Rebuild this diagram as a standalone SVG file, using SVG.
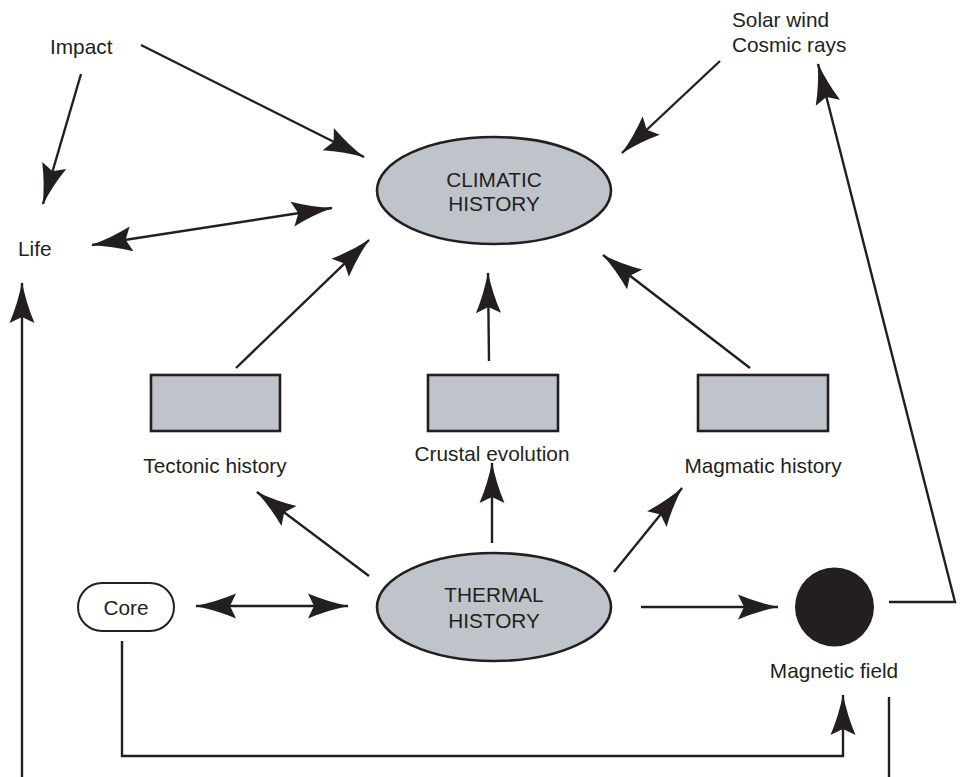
<svg xmlns="http://www.w3.org/2000/svg" width="960" height="777" viewBox="0 0 960 777">
<style>
  text { font-family: "Liberation Sans", Arial, sans-serif; font-size: 20.8px; fill: #231f20; }
  .c { text-anchor: middle; }
  .shape { fill: #bfc3ca; stroke: #231f20; stroke-width: 2.6; }
  .conn { fill: none; stroke: #231f20; stroke-width: 2.4; }
</style>
<defs>
  <marker id="ah" markerUnits="userSpaceOnUse" viewBox="-42 -15 44 30" markerWidth="44" markerHeight="30" refX="0" refY="0" orient="auto-start-reverse">
    <path d="M1,0 Q-20,-4 -40,-12.5 L-34,0 L-40,12.5 Q-20,4 1,0 Z" fill="#231f20"/>
  </marker>
</defs>

<g id="connectors">
  <line class="conn" x1="141" y1="45" x2="364" y2="157" marker-end="url(#ah)"/>
  <line class="conn" x1="81" y1="74" x2="43" y2="204" marker-end="url(#ah)"/>
  <line class="conn" x1="92" y1="245" x2="332" y2="208" marker-start="url(#ah)" marker-end="url(#ah)"/>
  <line class="conn" x1="236" y1="368" x2="369" y2="240" marker-end="url(#ah)"/>
  <line class="conn" x1="489" y1="361" x2="488" y2="273" marker-end="url(#ah)"/>
  <line class="conn" x1="750" y1="368" x2="603" y2="255" marker-end="url(#ah)"/>
  <line class="conn" x1="720" y1="61" x2="622" y2="153" marker-end="url(#ah)"/>
  <polyline class="conn" points="889,602 955,602 818,64" marker-end="url(#ah)"/>
  <line class="conn" x1="369" y1="576" x2="257" y2="492" marker-end="url(#ah)"/>
  <line class="conn" x1="492" y1="543" x2="492" y2="463" marker-end="url(#ah)"/>
  <line class="conn" x1="614" y1="572" x2="682" y2="488" marker-end="url(#ah)"/>
  <line class="conn" x1="196" y1="606" x2="348" y2="606" marker-start="url(#ah)" marker-end="url(#ah)"/>
  <line class="conn" x1="641" y1="607" x2="778" y2="607" marker-end="url(#ah)"/>
  <polyline class="conn" points="122,641 122,756 843,756 843,695" marker-end="url(#ah)"/>
  <line class="conn" x1="22" y1="777" x2="22" y2="283" marker-end="url(#ah)"/>
  <line class="conn" x1="889" y1="697" x2="889" y2="777"/>
</g>

<g id="climatic">
  <ellipse class="shape" cx="494" cy="190.5" rx="117" ry="53.5"/>
  <text class="c" x="494" y="187">CLIMATIC</text>
  <text class="c" x="494" y="211">HISTORY</text>
</g>

<g id="thermal">
  <ellipse class="shape" cx="494" cy="607" rx="117" ry="54"/>
  <text class="c" x="494" y="602">THERMAL</text>
  <text class="c" x="494" y="628">HISTORY</text>
</g>

<g id="tectonic">
  <rect class="shape" x="151" y="375" width="129" height="56"/>
  <text class="c" x="215" y="473">Tectonic history</text>
</g>

<g id="crustal">
  <rect class="shape" x="428" y="375" width="130" height="56"/>
  <text class="c" x="492" y="461">Crustal evolution</text>
</g>

<g id="magmatic">
  <rect class="shape" x="698" y="375" width="130" height="56"/>
  <text class="c" x="763" y="473">Magmatic history</text>
</g>

<g id="core">
  <rect x="78" y="583" width="96" height="48" rx="24" ry="24" fill="#ffffff" stroke="#231f20" stroke-width="2"/>
  <text class="c" x="126" y="615">Core</text>
</g>

<g id="magnetic">
  <circle cx="834.5" cy="607" r="39.5" fill="#231f20"/>
  <text class="c" x="834" y="678">Magnetic field</text>
</g>

<g id="impact">
  <text x="50" y="54">Impact</text>
</g>

<g id="life">
  <text x="18" y="256">Life</text>
</g>

<g id="solar">
  <text x="732" y="27">Solar wind</text>
  <text x="732" y="52">Cosmic rays</text>
</g>
</svg>
